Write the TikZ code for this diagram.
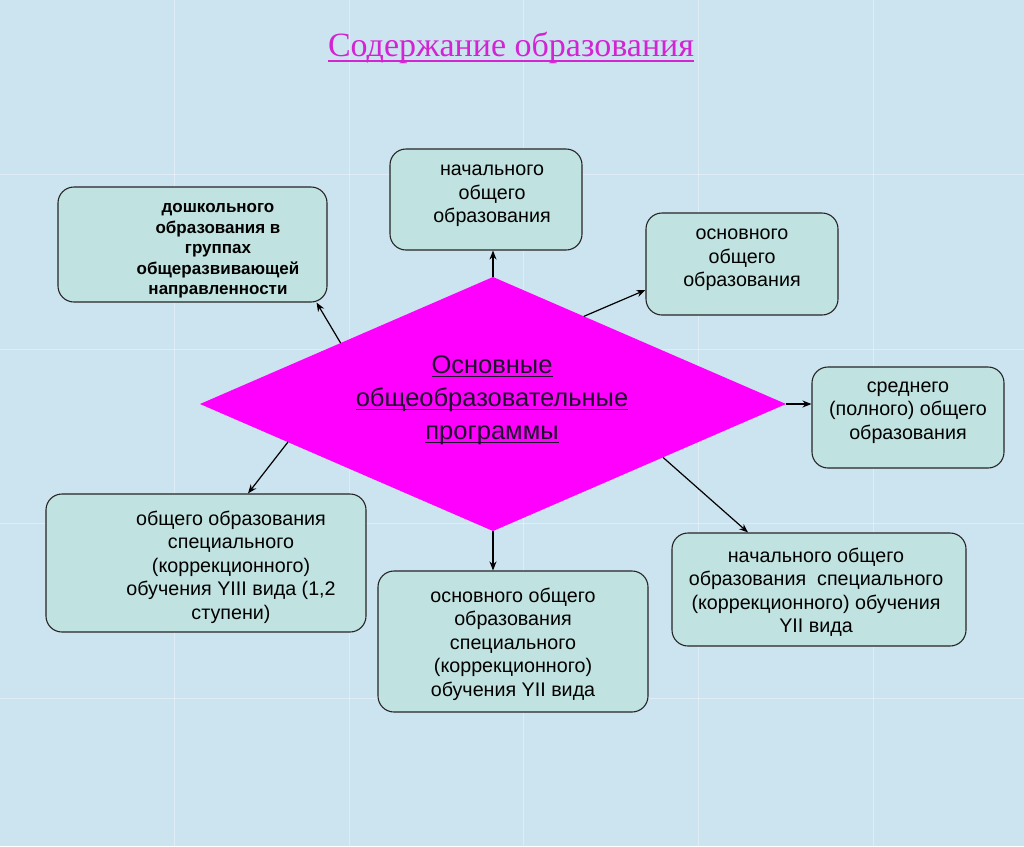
\documentclass[tikz,border=0pt]{standalone}
\usepackage{fontspec}
\setmainfont{Liberation Sans}
\newfontfamily\titlefont{Liberation Serif}
\usetikzlibrary{shapes.geometric,arrows.meta,calc}
\definecolor{bg}{RGB}{204,227,240}
\definecolor{boxfill}{RGB}{192,226,224}
\definecolor{mag}{RGB}{255,0,255}
\definecolor{titlec}{RGB}{210,36,210}
\definecolor{dtext}{RGB}{30,15,45}
\newcommand\ulx[3]{\leavevmode\setbox0\hbox{#3}\rlap{\raisebox{-#1}{\rule{\wd0}{#2}}}\box0}
\begin{document}
\begin{tikzpicture}[x=1pt,y=1pt,
  box/.style={draw=black!85, line width=1.1pt, fill=boxfill, rounded corners=16pt, inner sep=0pt},
  btext/.style={align=center, font=\fontsize{19.7}{23.5}\selectfont, text=black, inner sep=0pt},
  bbold/.style={align=center, font=\bfseries\fontsize{17}{20.5}\selectfont, text=black, inner sep=0pt},
  tile/.style={draw=white, opacity=0.35, line width=0.8pt},
  conn/.style={line width=1.2pt, draw=black, -{Stealth[length=9pt,width=7pt]}}]
\fill[bg] (0,0) rectangle (1024,-846);
\useasboundingbox (0,0) rectangle (1024,-846);
\foreach \k in {1,...,5} {
  \draw[tile] (174.6*\k,0) -- (174.6*\k,-846);
  \draw[tile] (0,-174.6*\k) -- (1024,-174.6*\k);
}

\node[text=titlec, font=\titlefont\fontsize{34}{40}\selectfont] (title) at (511,-48) {\ulx{5pt}{1.3pt}{Содержание образования}};

\node[diamond, fill=mag, draw=none, minimum width=586pt, minimum height=254pt, inner sep=0pt, outer sep=0pt, aspect=2.3] (dia) at (493,-404) {};
\node[align=center, text=dtext, font=\fontsize{25.5}{33}\selectfont] (diat) at (492,-400) {\ulx{4pt}{1.2pt}{Основные}\\ \ulx{4pt}{1.2pt}{общеобразовательные}\\ \ulx{4pt}{1.2pt}{программы}};

\node[box, minimum width=269pt, minimum height=115pt] (b1) at (192.5,-244.5) {};
\node[bbold] (t1) at (218,-251) {дошкольного\\ образования в\\ группах\\ общеразвивающей\\ направленности};

\node[box, minimum width=192pt, minimum height=101pt] (b2) at (486,-199.5) {};
\node[btext] (t2) at (492,-196) {начального\\ общего\\ образования};

\node[box, minimum width=192pt, minimum height=102pt] (b3) at (742,-264) {};
\node[btext] (t3) at (742,-260) {основного\\ общего\\ образования};

\node[box, minimum width=192pt, minimum height=101pt] (b4) at (908,-417.5) {};
\node[btext] (t4) at (908,-412.5) {среднего\\ (полного) общего\\ образования};

\node[box, minimum width=294pt, minimum height=113pt] (b5) at (819,-589.5) {};
\node[btext] (t5) at (816,-592) {начального общего\\ образования\ \ специального\\ (коррекционного) обучения\\ YII вида};

\node[box, minimum width=270pt, minimum height=141pt] (b6) at (513,-641.5) {};
\node[btext] (t6) at (513,-644) {основного общего\\ образования\\ специального\\ (коррекционного)\\ обучения YII вида};

\node[box, minimum width=320pt, minimum height=138pt] (b7) at (206,-563) {};
\node[btext] (t7) at (231,-567) {общего образования\\ специального\\ (коррекционного)\\ обучения YIII вида (1,2\\ ступени)};

\draw[conn] ($(dia.west)!0.48!(dia.north)$) -- ([xshift=-11pt]b1.south east);
\draw[conn] (dia.north) -- (dia.north |- b2.south);
\draw[conn] ($(dia.north)!0.31!(dia.east)$) -- ([yshift=-26pt]b3.west);
\draw[conn] (dia.east) -- (dia.east -| b4.west);
\draw[conn] ($(dia.east)!0.42!(dia.south)$) -- ([xshift=-71pt]b5.north);
\draw[conn] (dia.south) -- (dia.south |- b6.north);
\draw[conn] ($(dia.west)!0.30!(dia.south)$) -- ([xshift=42pt]b7.north);
\end{tikzpicture}
\end{document}
